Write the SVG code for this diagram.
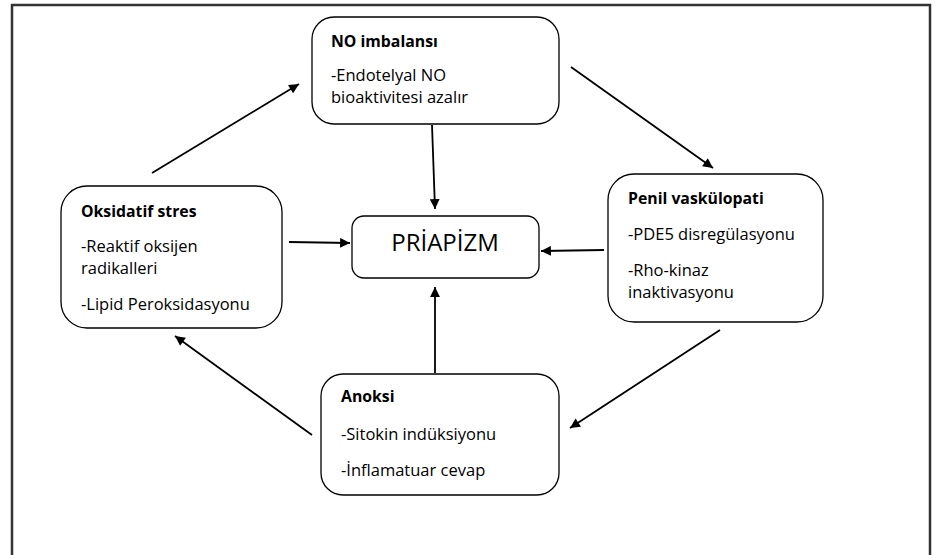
<svg xmlns="http://www.w3.org/2000/svg" width="935" height="555" viewBox="0 0 935 555">
<defs>
<marker id="ah" viewBox="0 0 10 10" refX="10" refY="5" markerWidth="6" markerHeight="5.5" orient="auto" markerUnits="strokeWidth">
<path d="M0,0 L10,5 L0,10 z" fill="#000"/>
</marker>
<style>
.box{fill:#fff;stroke:#000;stroke-width:1.3}
.t{font-family:"Open Sans","Noto Sans",sans-serif;font-size:16.5px;fill:#000}
.b{font-weight:bold;font-size:15.8px}
.p{font-size:24px}
.c{stroke:#000;stroke-width:1.8;fill:none;marker-end:url(#ah)}
</style>
</defs>
<rect width="935" height="555" fill="#fff"/>
<path d="M12,556 V5 H930 V556" fill="none" stroke="#333" stroke-width="2.5"/>
<g id="connectors">
<line class="c" x1="152" y1="173" x2="299" y2="84"/>
<line class="c" x1="571" y1="67" x2="713" y2="168"/>
<line class="c" x1="720" y1="330" x2="570" y2="428"/>
<line class="c" x1="312" y1="435" x2="175" y2="336"/>
<line class="c" x1="432" y1="125" x2="435" y2="209"/>
<line class="c" x1="289" y1="242" x2="350" y2="243"/>
<line class="c" x1="604" y1="250" x2="541" y2="251"/>
<line class="c" x1="435" y1="373" x2="435" y2="287"/>
</g>
<g id="no">
<rect class="box" x="312" y="17" width="247" height="107" rx="22"/>
<text class="t b" x="331" y="47">NO imbalansı</text>
<text class="t" x="331" y="81">-Endotelyal NO</text>
<text class="t" x="331" y="103">bioaktivitesi azalır</text>
</g>
<g id="oksidatif">
<rect class="box" x="61" y="186" width="221" height="142" rx="26"/>
<text class="t b" x="81" y="217">Oksidatif stres</text>
<text class="t" x="81" y="252">-Reaktif oksijen</text>
<text class="t" x="81" y="274">radikalleri</text>
<text class="t" x="81" y="310">-Lipid Peroksidasyonu</text>
</g>
<g id="priapizm">
<rect class="box" x="352" y="216" width="187" height="62" rx="12"/>
<text class="t p" x="445" y="251" text-anchor="middle">PRİAPİZM</text>
</g>
<g id="penil">
<rect class="box" x="608" y="174" width="215" height="148" rx="26"/>
<text class="t b" x="628" y="204">Penil vaskülopati</text>
<text class="t" x="628" y="240">-PDE5 disregülasyonu</text>
<text class="t" x="628" y="276">-Rho-kinaz</text>
<text class="t" x="628" y="298">inaktivasyonu</text>
</g>
<g id="anoksi">
<rect class="box" x="321" y="374" width="238" height="121" rx="22"/>
<text class="t b" x="341" y="402">Anoksi</text>
<text class="t" x="341" y="440">-Sitokin indüksiyonu</text>
<text class="t" x="341" y="476">-İnflamatuar cevap</text>
</g>
</svg>
